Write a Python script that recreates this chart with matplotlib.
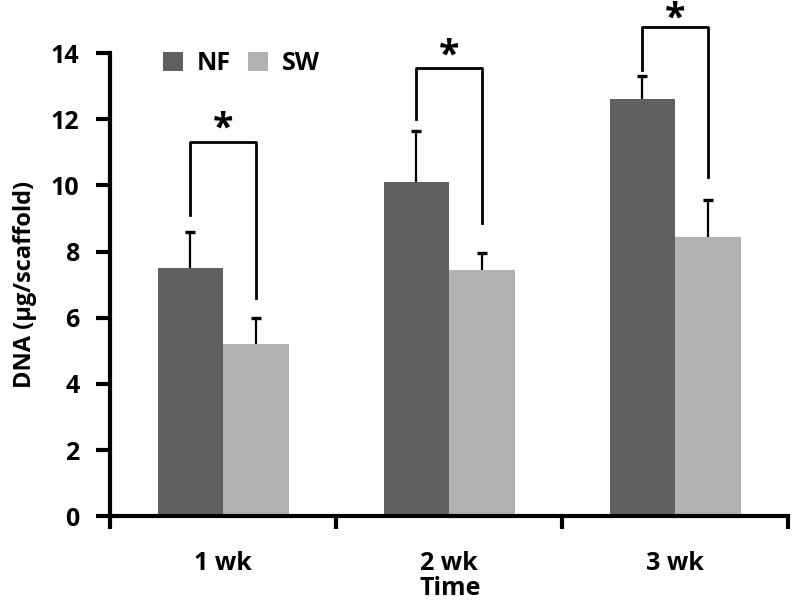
import numpy as np
import matplotlib.pyplot as plt

# --- data ---
weeks = ['1 wk', '2 wk', '3 wk']
nf_mean = [7.5, 10.1, 12.6]
nf_err = [1.1, 1.55, 0.7]
sw_mean = [5.2, 7.45, 8.45]
sw_err = [0.8, 0.5, 1.1]

# significance brackets: (top, left foot, right foot, star height)
br_top = [11.3, 13.55, 14.8]
br_left = [9.1, 12.0, 13.5]
br_right = [6.6, 8.85, 10.25]
star_y = [11.68, 13.9, 15.0]

NF_COL = '#606060'
SW_COL = '#b2b2b2'
FONT = 'Open Sans'

fig = plt.figure(figsize=(7.92, 6.03), dpi=100)
ax = fig.add_axes([0.139, 0.144, 0.856, 0.768])

x = np.arange(len(weeks))
w = 0.29

for pos, mean, err, col, name in [(x - w / 2, nf_mean, nf_err, NF_COL, 'NF'),
                                  (x + w / 2, sw_mean, sw_err, SW_COL, 'SW')]:
    mean = np.array(mean)
    top = mean + np.array(err)
    ax.bar(pos, mean, w, color=col, label=name, zorder=2)
    # upper error bar only, cap only at the top
    ax.vlines(pos, mean, top, color='black', lw=1.6, zorder=3)
    ax.plot(pos, top, linestyle='none', marker='_', markersize=7,
            markeredgewidth=2.4, color='black', zorder=3)

# brackets with stars
for i in range(len(weeks)):
    xl, xr = x[i] - w / 2, x[i] + w / 2
    ax.plot([xl, xl, xr, xr], [br_left[i], br_top[i], br_top[i], br_right[i]],
            color='black', lw=2, clip_on=False, zorder=4)
    ax.text(x[i], star_y[i], '*', ha='center', va='center', fontsize=27,
            fontweight='bold', family=FONT, clip_on=False)

ax.set_xlim(-0.5, 2.5)
ax.set_ylim(0, 14)
ax.set_yticks(range(0, 15, 2))
ax.set_xticks([-0.5, 0.5, 1.5, 2.5])
ax.set_xticklabels([])
ax.set_xticks(x, minor=True)
ax.set_xticklabels(weeks, minor=True)

for s in ['top', 'right']:
    ax.spines[s].set_visible(False)
for s in ['left', 'bottom']:
    ax.spines[s].set_linewidth(3)

ax.tick_params(axis='y', which='major', direction='out', length=10, width=3,
               pad=12, labelsize=18)
ax.tick_params(axis='x', which='major', direction='out', length=9, width=3)
ax.tick_params(axis='x', which='minor', length=0, pad=25, labelsize=18)
for lab in ax.get_yticklabels() + ax.get_xticklabels(minor=True):
    lab.set_fontweight('bold')
    lab.set_family(FONT)

ax.set_ylabel('DNA (µg/scaffold)', fontsize=17, fontweight='bold',
              family=FONT, labelpad=10)
fig.text(0.569, 0.0133, 'Time', ha='center', va='baseline', fontsize=18,
         fontweight='bold', family=FONT)

leg = ax.legend(loc='upper left', bbox_to_anchor=(0.045, 1.052), ncol=2,
                frameon=False, handlelength=0.8, handleheight=0.8,
                columnspacing=0.7, handletextpad=0.55,
                prop={'family': FONT, 'weight': 'bold', 'size': 18})

fig.savefig('out.png', dpi=100)
